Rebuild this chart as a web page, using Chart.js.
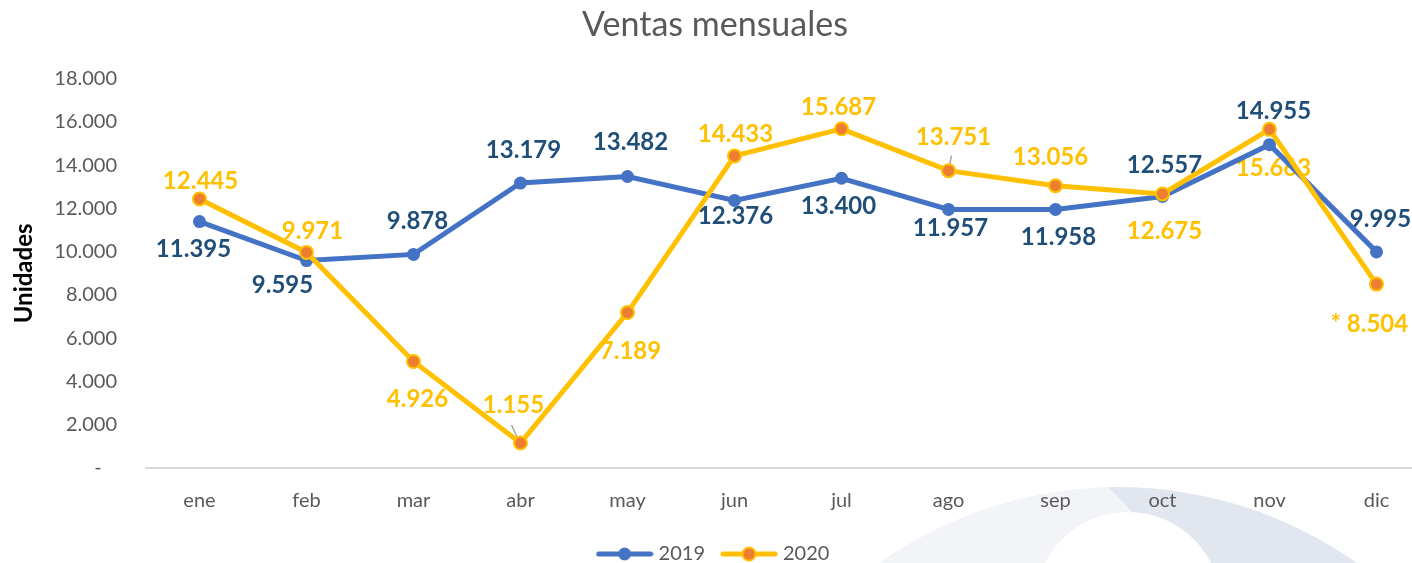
<!DOCTYPE html>
<html>
<head>
<meta charset="utf-8">
<title>Ventas mensuales</title>
<script src="https://cdn.jsdelivr.net/npm/chart.js@4.4.1/dist/chart.umd.min.js"></script>
<style>
  html, body { margin: 0; padding: 0; background: #fff; overflow: hidden; }
  canvas { display: block; }
</style>
</head>
<body>
<canvas id="lineChart" width="1430" height="563"></canvas>
<script>
const months = ['ene', 'feb', 'mar', 'abr', 'may', 'jun', 'jul', 'ago', 'sep', 'oct', 'nov', 'dic'];
const sales2019 = [11395, 9595, 9878, 13179, 13482, 12376, 13400, 11957, 11958, 12557, 14955, 9995];
const sales2020 = [12445, 9971, 4926, 1155, 7189, 14433, 15687, 13751, 13056, 12675, 15663, 8504];
const notes2020 = ['', '', '', '', '', '', '', '', '', '', '', '* '];
const yTicks = [0, 2000, 4000, 6000, 8000, 10000, 12000, 14000, 16000, 18000];

// where each value label sits, relative to its point (px)
const offsets2019 = [[-6, 27], [-24, 24], [4, -34], [3, -34], [3, -35], [1, 15],
                     [-3, 27], [2, 18], [3, 27], [2, -32], [4, -34], [4, -33]];
const offsets2020 = [[1, -18], [6, -22], [4, 37], [-7, -39], [3, 38], [1, -22],
                     [-3, -22], [5, -34], [-5, -29], [2, 37], [4, 38], [-7, 39]];
// little grey leader lines (x1, y1, x2, y2 from the point)
const leaders2020 = [null, null, null, [-2, -3, -9, -18], null, null,
                     null, [1, -5, 3, -15], null, null, null, null];

const fmt = v => String(v).replace(/\B(?=(\d{3})+(?!\d))/g, '.');

Chart.defaults.font.family = 'Lato';

const makeIcon = (line, fill, border) => {
    const c = document.createElement('canvas');
    c.width = 58; c.height = 20;
    const g = c.getContext('2d');
    g.strokeStyle = line;
    g.lineWidth = 5;
    g.lineCap = 'round';
    g.beginPath(); g.moveTo(3, 10); g.lineTo(55, 10); g.stroke();
    g.beginPath(); g.arc(29, 10, 6.5, 0, Math.PI * 2);
    g.fillStyle = fill; g.fill();
    if (border) { g.lineWidth = 2; g.strokeStyle = border; g.stroke(); }
    return c;
};
const legendIcons = [makeIcon('#4472C4', '#4472C4'), makeIcon('#FFC000', '#ED7D31', '#FFC000')];

// faint arch in the lower right corner
const backdrop = {
    id: 'backdrop',
    beforeDraw(chart) {
        const ctx = chart.ctx;
        ctx.save();
        ctx.beginPath();
        ctx.arc(1118, 900, 413, 0, Math.PI * 2);
        ctx.fillStyle = '#F2F4F7';
        ctx.fill();
        ctx.clip();
        ctx.beginPath();
        ctx.moveTo(1092, 470);
        ctx.lineTo(1430, 470);
        ctx.lineTo(1430, 563);
        ctx.lineTo(1170, 563);
        ctx.lineTo(1135, 515);
        ctx.closePath();
        ctx.fillStyle = '#E2E7EF';
        ctx.fill();
        ctx.beginPath();
        ctx.arc(1128, 605, 93, 0, Math.PI * 2);
        ctx.fillStyle = '#FFFFFF';
        ctx.fill();
        ctx.restore();
    }
};

const valueLabels = {
    id: 'valueLabels',
    beforeDatasetsDraw(chart) {
        const ctx = chart.ctx;
        ctx.save();
        ctx.font = 'bold 24px Lato';
        ctx.textAlign = 'center';
        ctx.textBaseline = 'alphabetic';
        chart.data.datasets.forEach((ds, i) => {
            const meta = chart.getDatasetMeta(i);
            meta.data.forEach((pt, j) => {
                const [dx, dy] = ds.labelOffsets[j];
                const lead = ds.leaders ? ds.leaders[j] : null;
                if (lead) {
                    ctx.strokeStyle = '#A6A6A6';
                    ctx.lineWidth = 1.5;
                    ctx.beginPath();
                    ctx.moveTo(pt.x + lead[0], pt.y + lead[1]);
                    ctx.lineTo(pt.x + lead[2], pt.y + lead[3]);
                    ctx.stroke();
                }
                ctx.fillStyle = ds.labelColor;
                const text = (ds.notes ? ds.notes[j] : '') + fmt(ds.data[j]);
                ctx.fillText(text, pt.x + dx, pt.y + dy + 8.5);
            });
        });
        ctx.restore();
    }
};

const ctx = document.getElementById('lineChart').getContext('2d');
const lineChart = new Chart(ctx, {
    type: 'line',
    data: {
        labels: months,
        datasets: [{
            label: '2019',
            data: sales2019,
            borderColor: '#4472C4',
            backgroundColor: '#4472C4',
            borderWidth: 5,
            pointRadius: 6.5,
            pointBorderWidth: 0,
            pointBackgroundColor: '#4472C4',
            labelColor: '#1F4E79',
            labelOffsets: offsets2019,
            order: 1
        }, {
            label: '2020',
            data: sales2020,
            borderColor: '#FFC000',
            backgroundColor: '#FFC000',
            borderWidth: 5,
            pointRadius: 6.5,
            pointBorderWidth: 2,
            pointBorderColor: '#FFC000',
            pointBackgroundColor: '#ED7D31',
            labelColor: '#FFC000',
            labelOffsets: offsets2020,
            leaders: leaders2020,
            notes: notes2020,
            order: 0
        }]
    },
    options: {
        responsive: false,
        animation: false,
        layout: { autoPadding: false, padding: { bottom: -11 } },
        plugins: {
            title: {
                display: true,
                text: 'Ventas mensuales',
                color: '#595959',
                font: { size: 34, weight: 'normal' },
                padding: { top: 5, bottom: 33 }
            },
            legend: {
                position: 'bottom',
                labels: {
                    usePointStyle: true,
                    pointStyleWidth: 48,
                    padding: 20,
                    color: '#595959',
                    font: { size: 20 },
                    sort: (a, b) => a.datasetIndex - b.datasetIndex,
                    generateLabels: chart => Chart.defaults.plugins.legend.labels.generateLabels(chart)
                        .map(item => ({ ...item, pointStyle: legendIcons[item.datasetIndex] }))
                }
            },
            tooltip: { enabled: false }
        },
        scales: {
            x: {
                offset: true,
                grid: { display: false, offset: true },
                border: { color: '#D9D9D9', width: 2 },
                ticks: { color: '#595959', font: { size: 20 }, padding: 13 },
                afterFit: s => { s.height = 56; }
            },
            y: {
                min: 0,
                max: 18000,
                afterBuildTicks: s => { s.ticks = yTicks.map(v => ({ value: v })); },
                grid: { display: false, drawTicks: false },
                border: { display: false },
                ticks: {
                    color: '#595959',
                    font: { size: 20 },
                    padding: 29,
                    callback: v => v === 0 ? '-   ' : fmt(v)
                },
                title: {
                    display: true,
                    text: 'Unidades',
                    color: '#000000',
                    font: { size: 24, weight: 'bold' },
                    padding: { top: 10, bottom: 0 }
                },
                afterFit: s => { s.width = 146; }
            }
        }
    },
    plugins: [backdrop, valueLabels]
});
</script>
</body>
</html>
